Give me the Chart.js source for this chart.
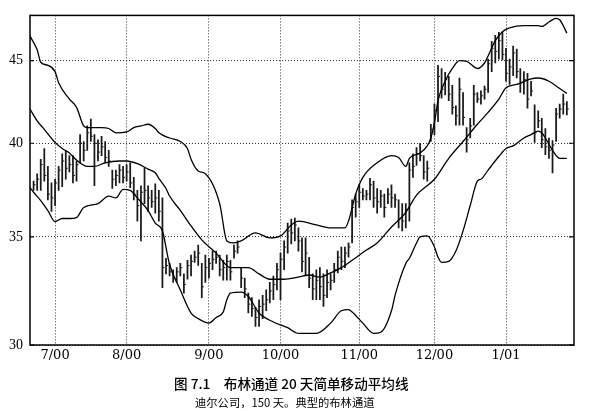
<!DOCTYPE html>
<html><head><meta charset="utf-8">
<script src="https://cdn.jsdelivr.net/npm/chart.js@4.4.1/dist/chart.umd.min.js"></script>
<style>
html,body{margin:0;padding:0;background:#fff;width:589px;height:411px;overflow:hidden}
#wrap{position:relative;width:589px;height:411px}
canvas{position:absolute;left:0;top:0}
.cap{position:absolute;font-family:"Noto Sans CJK SC";color:#000;white-space:pre;line-height:1}
</style></head><body>
<div id="wrap"><canvas id="c" width="589" height="411"></canvas>
<div class="cap" style="left:174px;top:377px;font-size:13.6px;font-weight:500">图 7.1　布林通道 20 天简单移动平均线</div>
<div class="cap" style="left:195px;top:397px;font-size:11.3px">迪尔公司，150 天。典型的布林通道</div>
</div>
<script>
// Trading-day tick positions and labels
const monthTickDays = [7, 27, 50, 70, 92, 113, 133];
const monthLabels = ['7/00', '8/00', '9/00', '10/00', '11/00', '12/00', '1/01'];
const priceTicks = [30, 35, 40, 45];

// Daily bars (day 1..150)
const highs = [37.9,38.3,39.1,39.7,38.7,37.8,38.0,38.7,39.4,39.6,39.3,39.3,39.0,40.5,40.1,41.0,41.4,40.5,40.2,40.4,
40.1,39.6,38.5,38.5,38.8,38.7,38.8,38.9,38.1,37.4,37.65,38.6,37.65,37.4,37.75,37.4,37.0,33.95,33.7,33.4,
33.5,33.7,33.2,33.85,34.1,34.3,34.6,33.7,34.1,33.95,34.3,34.3,34.1,33.85,34.1,33.85,34.6,34.8,33.5,33.0,
32.3,32.1,31.65,32.0,32.2,32.45,32.8,33.1,33.7,34.2,34.8,35.7,35.9,35.95,35.45,34.95,34.95,34.0,33.2,33.4,
33.5,33.2,33.4,33.2,33.7,34.3,34.5,34.5,34.7,36.9,37.2,37.7,37.5,37.4,38.05,37.9,37.5,37.4,37.2,37.5,
37.7,37.2,36.9,36.7,36.7,38.9,39.4,39.75,40.0,39.3,39.0,41.1,42.3,44.7,44.5,44.25,44.0,43.45,42.2,43.9,
43.0,40.9,41.45,43.45,43.0,43.1,43.4,45.1,46.25,46.65,46.85,46.85,45.8,45.1,45.95,45.75,44.5,44.3,44.2,43.7,
42.25,41.9,41.45,40.85,40.3,40.15,42.05,42.3,42.9,42.45];
const lows = [37.4,37.4,37.4,37.9,36.9,36.3,36.6,37.4,37.6,38.0,38.4,37.8,37.9,38.9,39.0,39.6,40.1,37.65,39.0,39.3,
38.9,38.7,37.5,37.65,37.8,37.8,37.9,37.55,36.9,35.8,34.8,36.7,36.3,36.5,36.2,35.8,32.55,33.2,33.1,32.8,
32.8,33.1,32.3,32.95,33.1,33.75,33.6,32.1,32.8,33.0,33.4,33.7,33.1,32.9,32.9,32.9,33.95,34.2,32.55,32.1,
31.4,31.25,30.8,30.8,31.15,31.5,31.85,32.0,32.45,32.0,33.4,34.2,34.65,34.8,34.3,33.3,33.1,32.55,32.0,32.0,
32.0,31.7,32.1,32.45,32.8,33.25,33.4,33.5,34.0,34.7,36.0,36.5,36.9,36.9,36.9,36.5,36.2,36.5,36.0,36.7,
36.5,36.5,35.45,35.3,35.45,35.8,38.1,38.75,39.0,38.0,37.9,40.1,40.5,41.25,42.65,42.85,42.5,41.7,41.05,41.05,
41.05,39.5,40.3,41.05,42.4,42.3,42.6,43.0,44.3,44.85,45.1,45.05,43.7,43.5,44.05,43.9,43.0,42.9,42.05,42.8,
40.05,40.9,39.75,39.35,39.15,38.35,40.1,41.45,41.7,41.65];
const closes = [37.7,38.0,38.8,38.2,37.2,37.0,37.8,38.5,39.0,38.6,38.8,38.2,38.8,40.0,39.6,40.6,40.4,40.0,39.5,39.8,
39.2,39.0,38.0,38.2,38.5,38.1,38.4,37.8,37.2,36.6,37.3,37.4,37.0,36.8,37.0,36.3,33.5,33.6,33.3,33.0,
33.3,33.5,32.7,33.6,33.8,34.0,34.2,32.6,33.5,33.7,33.9,34.0,33.4,33.5,33.8,33.3,34.3,34.5,33.0,32.5,
31.8,31.6,31.2,31.7,31.8,32.0,32.4,32.7,33.4,33.9,34.5,35.3,35.2,35.6,34.8,33.8,34.2,33.0,32.5,32.9,
32.6,32.2,32.8,32.9,33.4,34.0,33.8,34.2,34.5,36.5,36.8,37.3,37.1,37.2,37.7,37.0,36.8,37.1,36.5,37.2,
37.0,36.9,35.9,35.8,36.4,38.5,38.7,39.4,39.3,38.4,38.6,40.8,41.9,44.0,43.2,43.8,42.9,42.1,41.6,43.2,
41.5,40.2,41.0,42.9,42.6,42.8,43.2,44.8,45.8,45.6,46.3,45.4,44.2,44.6,45.5,44.3,43.6,43.8,42.6,43.1,
40.6,41.3,40.2,39.8,39.6,39.9,41.7,42.0,42.3,42.0];

// Bollinger band readings (day, value)
const upperDays = [0,2,3,5,7,8,11,13,15,16,20,22,24,27,29,31,33,35,36,39,42,44,45,47,49,53,55,57,59,63,67,70,73,75,80,84,88,89,91,93,97,101,103,105,106,109,111,112,113,114,116,118,120,122,125,127,128,130,132,134,138,142,143,145,147,148,149,150];
const upperVals = [46.6,45.7,44.9,44.7,44.3,43.6,42.6,42.1,41.0,40.9,40.9,40.85,40.6,40.65,40.9,41.0,41.1,40.85,40.6,40.3,40.1,39.7,39.1,38.45,38.3,36.7,34.8,34.7,34.8,35.2,34.95,35.05,35.6,35.8,35.6,35.45,35.45,35.8,37.2,38.1,38.9,39.3,39.2,38.7,39.15,39.45,39.85,40.3,41.2,42.5,43.7,44.5,45.0,44.96,44.5,44.85,45.3,46.3,46.9,47.15,47.3,47.3,47.25,47.55,47.8,47.7,47.3,46.8];
const middleDays = [0,2,4,7,9,11,13,16,18,21,25,27,30,33,35,36,38,39,42,45,48,52,56,59,61,64,67,71,75,78,81,84,87,90,94,97,101,105,108,113,117,121,125,128,131,133,136,140,142,145,148,150];
const middleVals = [42.0,41.3,40.8,40.05,39.7,39.45,39.05,38.7,38.7,38.9,39.0,39.0,38.85,38.55,38.35,38.05,37.5,37.1,36.35,35.55,34.85,34.2,33.5,33.5,33.5,33.2,32.95,32.95,33.05,33.15,33.05,33.25,33.5,33.85,34.35,34.7,35.5,36.25,37.15,38.0,39.15,40.1,41.1,41.8,42.6,43.3,43.5,43.85,43.9,43.7,43.25,42.95];
const lowerDays = [0,1,3,5,7,9,11,13,15,19,22,24,26,28,30,33,35,37,39,42,45,47,50,52,54,55,56,59,61,64,68,72,75,80,84,87,89,90,93,96,98,101,102,105,106,108,109,111,113,114,115,117,119,121,123,125,126,128,131,133,135,138,140,142,143,144,146,148,150];
const lowerVals = [37.55,37.3,36.86,36.34,35.77,35.93,35.93,35.98,36.5,36.7,37.1,37.0,37.45,37.4,37.0,36.34,35.7,35.3,33.65,32.45,31.4,31.15,30.95,31.2,31.45,32.0,32.3,32.35,32.15,31.4,31.0,30.75,30.5,30.5,30.95,31.5,31.55,31.45,30.95,30.5,30.55,31.5,32.2,33.7,33.95,34.7,35.0,35.05,34.5,34.0,33.75,33.8,34.3,35.3,36.6,37.9,38.0,38.5,39.25,39.7,39.85,40.3,40.5,40.7,40.6,40.3,39.6,39.15,39.15];

const dayNums = highs.map((_, k) => k + 1);
const toXY = (days, vals) => days.map((d, k) => ({x: d, y: vals[k]}));

const framePlugin = {
  id: 'frame',
  afterDatasetsDraw(chart) {
    const {ctx, chartArea: a, scales} = chart;
    ctx.save();
    ctx.strokeStyle = '#000';
    ctx.lineWidth = 1.5;
    ctx.strokeRect(a.left, a.top, a.right - a.left, a.bottom - a.top);
    ctx.lineWidth = 1.2;
    priceTicks.forEach(v => {
      const y = scales.y.getPixelForValue(v);
      ctx.beginPath();
      ctx.moveTo(a.left, y); ctx.lineTo(a.left + 4, y);
      ctx.moveTo(a.right - 5, y); ctx.lineTo(a.right, y);
      ctx.stroke();
    });
    ctx.restore();
  }
};

const lineDs = (label, days, vals) => ({
  type: 'line', label, data: toXY(days, vals),
  borderColor: '#000', borderWidth: 1.3, pointRadius: 0, fill: false,
  cubicInterpolationMode: 'monotone', order: 0
});

new Chart(document.getElementById('c'), {
  type: 'bar',
  data: {
    datasets: [
      lineDs('Upper', upperDays, upperVals),
      lineDs('Middle', middleDays, middleVals),
      lineDs('Lower', lowerDays, lowerVals),
      {
        type: 'bar', label: 'High-Low',
        data: dayNums.map((d, k) => ({x: d, y: [lows[k], highs[k]]})),
        backgroundColor: '#1a1a1a', borderWidth: 0, barThickness: 1.1, grouped: false, order: 1
      },
      {
        type: 'scatter', label: 'Close',
        data: dayNums.map((d, k) => ({x: d, y: closes[k]})),
        pointStyle: 'dash', pointRadius: 2, borderColor: '#1a1a1a', borderWidth: 1,
        backgroundColor: '#1a1a1a', order: 1
      }
    ]
  },
  options: {
    responsive: false,
    animation: false,
    events: [],
    layout: {padding: {left: 0, top: 14, right: 15, bottom: 46}},
    plugins: {legend: {display: false}, tooltip: {enabled: false}},
    scales: {
      x: {
        type: 'linear', min: 0, max: 152, offset: false,
        afterBuildTicks: s => { s.ticks = monthTickDays.map(v => ({value: v})); },
        afterFit: s => { s.height = 20; },
        ticks: {
          autoSkip: false, maxRotation: 0, padding: 3, color: '#000',
          font: {family: 'DejaVu Serif', size: 13},
          callback: (v, i) => monthLabels[i]
        },
        grid: {color: '#000', lineWidth: 0.8, drawTicks: false, offset: false},
        border: {display: false, dash: [1, 2]}
      },
      y: {
        type: 'logarithmic', min: 30, max: 48,
        afterBuildTicks: s => { s.ticks = priceTicks.map(v => ({value: v})); },
        afterFit: s => { s.width = 30; },
        ticks: {
          autoSkip: false, padding: 7, color: '#000',
          font: {family: 'Liberation Serif', size: 14},
          callback: v => String(v)
        },
        grid: {color: '#000', lineWidth: 0.8, drawTicks: false},
        border: {display: false, dash: [1, 2]}
      }
    }
  },
  plugins: [framePlugin]
});
</script>
</body></html>
